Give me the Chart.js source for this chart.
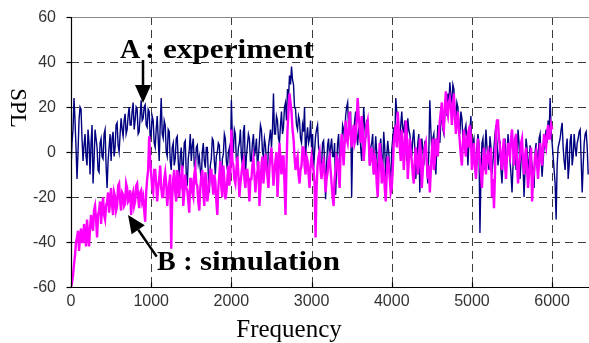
<!DOCTYPE html>
<html>
<head>
<meta http-equiv="Content-Type" content="text/html; charset=UTF-8" />
<title>SPL - experiment / simulation</title>
<script src="https://cdn.jsdelivr.net/npm/chart.js@4/dist/chart.umd.min.js"></script>
<style>
html, body { margin:0; padding:0; background:#fff; }
#wrap { width:589px; height:343px; }
</style>
</head>
<body>
<div id="wrap"><canvas id="canvas" width="589" height="343"></canvas></div>
<script>
// frequency bins are 12.5 Hz apart
var STEP = 12.5;
var xTicks = [0, 1000, 2000, 3000, 4000, 5000, 6000];
var yTicks = [-60, -40, -20, 0, 20, 40, 60];

// A : experiment (0 .. 6450 Hz)
var splA = [
  -8, 4, 10, 24, 14, 2, -12, 0, 14, 20, 19, 6, -4, 3, 8, -2, -6, 10, 4, -10,
  4, 12, -14, -4, 10, 6, 2, -8, -9, 4, 6, -2, -3, 8, 10, -6, -16, -4, 2, 8,
  -4, 6, 9, -2, 2, 12, 13, 3, 0, 8, 15, 10, 7, 14, 17, 8, 10, 16, 20, 12,
  12, 18, 22, 10, 14, 20, 19, 8, 9, 16, 23, 14, 15, 20, 21, 12, 11, 19, 18, 6,
  8, 16, 14, 4, 2, 10, 16, 6, -4, 12, 24, 8, 6, 14, 12, 0, -2, 10, 9, -4,
  -8, 2, 4, -6, -3, 6, 7, -4, -12, -2, 2, -8, -6, 4, 5, -10, -15, -3, 1, 8,
  -4, 3, 6, -6, -9, 2, 3, -5, -2, -8, -13, 0, 4, -4, -7, 2, 2, -10, -18, -6,
  -3, 6, 5, -4, -10, -2, 0, 4, 3, -8, -14, -3, -1, 8, 6, -4, -8, 0, 2, -6,
  23, 6, 0, 10, 8, -4, -5, 2, 4, 10, -2, -6, 9, 12, -11, -2, 3, 8, 6, -4,
  -4, 4, 8, -2, 1, 6, -7, -2, 5, 12, 10, 0, -2, 6, 3, -5, -9, 2, 6, 10,
  2, 10, 26, 8, 8, 16, 14, 6, 4, 12, 18, 8, 11, 20, 22, 14, 28, 24, 34, 30,
  38, 32, 30, 20, 19, 12, 10, 16, 14, 6, 4, 12, 9, 20, -3, 6, 11, 4, 6, 14,
  2, 8, -8, 0, 7, 10, 12, 2, 0, -6, -6, 4, 5, -4, -21, -6, 3, 6, -4, 2,
  6, -2, -2, 4, -19, -6, 4, 8, -5, 0, 2, 12, 10, 4, 16, 20, 22, 10, 12, 18,
  -20, 4, 8, 14, 18, 8, 3, 10, 12, 2, -4, 6, 20, 12, 6, 14, 14, 4, -6, 2,
  4, 8, -10, -2, 7, 0, -15, -4, 2, 6, -3, -8, 9, 2, -12, -2, 5, 0, -8, -14,
  1, 6, 11, 4, 24, 18, 14, 8, 6, 12, 18, 10, 9, 14, 2, -4, 15, 10, 8, 4,
  -2, 6, 10, 2, -12, -4, 4, 8, -18, -6, 6, 2, -6, 4, 3, -8, -14, 0, 23, 10,
  0, 6, 8, -4, -10, 2, 12, 8, 4, 14, 16, 10, 8, 18, 20, 16, 26, 22, 31, 24,
  22, 30, 28, 18, 14, 22, 20, 12, 8, 18, 15, 6, 2, 10, 12, 4, -6, 4, 10, 16,
  -2, 4, 6, -4, -12, 2, 8, 4, -36, -10, 4, 6, -8, 0, 10, 2, -4, -8, 7, 2,
  -10, -4, 2, 8, 12, 4, -6, -2, 5, -8, -14, -4, 3, 6, -9, -2, 8, 2, -4, -10,
  -18, -6, 4, 6, -8, -2, 10, 4, -12, -4, 2, -6, -20, -8, 6, 2, -10, -4, 3, -2,
  -6, -12, -16, 0, 4, -2, -4, 6, 8, -3, -11, -4, 2, 6, 10, 4, 14, 8, 24, 10,
  4, -2, -8, -14, -30, -6, 2, 4, 6, 10, 13, 2, -4, -8, 2, 6, -12, -6, 5, 8,
  -6, -2, 8, 2, -2, 4, 6, 9, 10, -4, -18, -6, 4, 8, 9, 2, -10
];

// B : simulation (0 .. 6000 Hz)
var splB = [
  -60, -58, -55, -50, -46, -40, -38, -35, -44, -38, -34, -40, -40, -32, -36, -42, -30, -36, -42, -34,
  -28, -32, -35, -26, -24, -30, -38, -28, -26, -22, -32, -25, -20, -28, -30, -24, -22, -18, -27, -22,
  -16, -24, -28, -18, -20, -26, -24, -15, -14, -22, -26, -18, -19, -24, -23, -14, -16, -22, -21, -17,
  -28, -20, -18, -24, -22, -15, -14, -20, -25, -18, -17, -22, -20, -26, -31, -18, -12, -8, 7, -4,
  -10, -16, -18, -8, -8, -14, -22, -16, -12, -6, -16, -20, -20, -12, -9, -14, -24, -18, -14, -10,
  -43, -20, -12, -8, -18, -22, -8, -14, -20, -12, -14, -6, -24, -18, -10, -16, -17, -22, -27, -12,
  -12, -18, -20, -10, -7, -14, -15, -22, -26, -16, -11, -8, -18, -24, -9, -12, -22, -18, -14, -8,
  -8, -14, -19, -10, -13, -22, -28, -16, -10, -4, -16, -20, -6, -12, -21, -18, -12, -6, -15, -10,
  10, -4, -6, -12, -14, -8, -2, -10, -20, -14, -10, -6, -4, -12, -16, -8, -8, -14, -22, -12,
  -12, -6, -3, -10, -18, -12, -9, -4, -24, -16, -6, -2, -14, -8, -1, -6, -11, -16, -7, -2,
  2, -6, -15, -8, -4, 0, -20, -10, 4, -4, -10, -2, -2, -14, -28, -6, 10, 18, 26, 22,
  18, 10, 6, -2, -8, -4, -2, -10, -14, -8, -6, 2, 2, -6, -10, -2, -4, -10, -16, -6,
  -2, -6, -8, -14, -38, -16, -6, -2, 0, -8, -12, -6, -4, -10, -18, -12, -9, -4, -2, -8,
  -14, -20, -24, -12, -8, -2, -3, -10, -16, 0, 8, 2, -6, 4, 14, 6, 4, 10, 18, 8,
  2, 8, 12, 4, 6, 14, 24, 16, 10, 4, 16, 10, -4, 2, 8, 12, 14, 6, -6, -2,
  2, -4, -10, -2, -4, -14, -20, -8, 4, -2, -14, -6, -8, -16, -22, -10, -2, -6, -12, -18,
  -16, -8, 4, 8, 12, 2, 18, 10, 2, -4, 10, 4, -8, 0, 14, 8, -12, -4, 6, 0,
  -4, -10, -14, -4, 2, -2, -10, -6, 6, 0, -16, -8, -2, 2, 4, -4, -12, -6, -18, -8,
  0, 6, -8, -4, 6, 2, -2, 8, 14, 18, 22, 12, 10, 20, 27, 18, 16, 22, 24, 20,
  12, 20, 26, 16, 8, 14, 18, 10, 4, -2, -6, 4, 10, 2, -2, 6, 8, 2, 12, 6,
  -8, -2, 4, -6, -12, -4, 6, 0, -4, -10, -16, -6, 2, -4, -10, -2, 0, -4, -6, 2,
  -20, -12, -25, -10, 10, 14, 14, 6, 2, -4, -8, 2, 6, -6, -12, -2, 4, 0, -2, 6,
  10, 2, -6, 4, 8, -4, -14, -6, -2, 4, 6, -4, -10, -2, 2, -8, -16, -10, -4, 2,
  -22, -12, -8, -2, 0, -6, -12, -4, 4, -2, -6, 2, 8, 4, 2, 8, 12, 6, 6, 12,
  10
];

// labels placed in data units [freq, spl]
var labelA = { letter: 'A', word: 'experiment', letterAt: [611, 41.6], colonAt: 985, wordFrom: 1147, wordTo: 3030 };
var labelB = { letter: 'B', word: 'simulation', letterAt: [1072, -52.4], colonAt: 1459, wordFrom: 1609, wordTo: 3354 };
var arrowA = [[898, 40.9], [898, 21.8]];
var arrowB = [[1069, -46.5], [711, -28]];

function toPoints(vals) {
    var pts = [];
    for (var i = 0; i < vals.length; i++) pts.push({ x: i * STEP, y: vals[i] });
    return pts;
}

var frame = {
    id: 'frame',
    beforeDatasetsDraw: function(chart) {
        var ctx = chart.ctx, a = chart.chartArea, xs = chart.scales.x, ys = chart.scales.y;
        function seg(x1, y1, x2, y2) { ctx.beginPath(); ctx.moveTo(x1, y1); ctx.lineTo(x2, y2); ctx.stroke(); }
        ctx.save();
        ctx.lineWidth = 1;
        ctx.strokeStyle = '#3c3c3c';
        ctx.setLineDash([8, 5]);
        xTicks.forEach(function(v) {
            if (v == 0) return;
            var px = Math.round(xs.getPixelForValue(v)) + 0.5;
            seg(px, a.top, px, a.bottom);
        });
        yTicks.forEach(function(v) {
            if (v == -60 || v == 60) return;
            var py = Math.round(ys.getPixelForValue(v)) + 0.5;
            seg(a.left, py, a.right, py);
        });
        ctx.setLineDash([]);
        ctx.strokeStyle = '#8a8a8a';
        seg(a.left, a.top + 0.5, a.right, a.top + 0.5);

        // tick labels
        ctx.fillStyle = '#333';
        ctx.font = '16px "Liberation Sans", Arial, sans-serif';
        ctx.textAlign = 'center';
        ctx.textBaseline = 'top';
        xTicks.forEach(function(v) {
            ctx.fillText(String(v), xs.getPixelForValue(v), a.bottom + 7);
        });
        ctx.textAlign = 'right';
        ctx.textBaseline = 'middle';
        yTicks.forEach(function(v) {
            ctx.fillText(String(v), a.left - 15, ys.getPixelForValue(v) + 1);
        });
        ctx.restore();
    },
    afterDatasetsDraw: function(chart) {
        var ctx = chart.ctx, a = chart.chartArea, xs = chart.scales.x, ys = chart.scales.y;
        function seg(x1, y1, x2, y2) { ctx.beginPath(); ctx.moveTo(x1, y1); ctx.lineTo(x2, y2); ctx.stroke(); }
        ctx.save();
        ctx.strokeStyle = '#000';
        ctx.lineWidth = 1.2;
        var L = Math.round(a.left) + 0.5, B = Math.round(a.bottom) + 0.5;
        seg(L, a.top, L, B);
        seg(a.left, B, a.right, B);
        yTicks.forEach(function(v) {
            var py = Math.round(ys.getPixelForValue(v)) + 0.5;
            seg(L - 5, py, L, py);
        });
        xTicks.forEach(function(v) {
            var px = Math.round(xs.getPixelForValue(v)) + 0.5;
            seg(px, B, px, B - 5);
        });

        // annotations
        ctx.fillStyle = '#000';
        ctx.font = 'bold 28px "Liberation Serif", "DejaVu Serif", serif';
        ctx.textBaseline = 'alphabetic';
        [labelA, labelB].forEach(function(lb) {
            var bx = xs.getPixelForValue(lb.letterAt[0]);
            var by = ys.getPixelForValue(lb.letterAt[1]);
            ctx.textAlign = 'left';
            ctx.fillText(lb.letter, bx, by);
            ctx.textAlign = 'center';
            ctx.fillText(':', xs.getPixelForValue(lb.colonAt), by);
            var x1 = xs.getPixelForValue(lb.wordFrom), x2 = xs.getPixelForValue(lb.wordTo);
            var w = ctx.measureText(lb.word).width;
            ctx.save();
            ctx.translate(x1, by);
            ctx.scale((x2 - x1) / w, 1);
            ctx.textAlign = 'left';
            ctx.fillText(lb.word, 0, 0);
            ctx.restore();
        });

        [arrowA, arrowB].forEach(function(ar) {
            var x1 = xs.getPixelForValue(ar[0][0]), y1 = ys.getPixelForValue(ar[0][1]);
            var x2 = xs.getPixelForValue(ar[1][0]), y2 = ys.getPixelForValue(ar[1][1]);
            var ang = Math.atan2(y2 - y1, x2 - x1), hl = 18, hw = 8;
            var bx = x2 - hl * Math.cos(ang), by = y2 - hl * Math.sin(ang);
            ctx.lineWidth = 2.5;
            seg(x1, y1, bx, by);
            ctx.beginPath();
            ctx.moveTo(x2, y2);
            ctx.lineTo(bx + hw * Math.sin(ang), by - hw * Math.cos(ang));
            ctx.lineTo(bx - hw * Math.sin(ang), by + hw * Math.cos(ang));
            ctx.closePath();
            ctx.fill();
        });

        // axis titles
        ctx.font = '25px "Liberation Serif", "DejaVu Serif", serif';
        ctx.textAlign = 'center';
        ctx.fillText('Frequency', 289, 337);
        ctx.translate(17, 108);
        ctx.rotate(Math.PI / 2);
        ctx.font = '23px "Liberation Serif", "DejaVu Serif", serif';
        ctx.textBaseline = 'middle';
        ctx.fillText('SPL', 0, 0);
        ctx.restore();
    }
};

new Chart(document.getElementById('canvas').getContext('2d'), {
    type: 'line',
    data: {
        datasets: [
            { label: 'B : simulation', data: toPoints(splB), borderColor: '#ff00ff', borderWidth: 2.4, pointRadius: 0, tension: 0, fill: false },
            { label: 'A : experiment', data: toPoints(splA), borderColor: '#000080', borderWidth: 1.4, pointRadius: 0, tension: 0, fill: false }
        ]
    },
    options: {
        responsive: false,
        animation: false,
        events: [],
        layout: { padding: { top: 17, right: 0, left: 0, bottom: 0 } },
        plugins: { legend: { display: false }, tooltip: { enabled: false } },
        scales: {
            x: {
                type: 'linear', min: 0, max: 6460,
                afterFit: function(s) { s.height = 56; },
                grid: { display: false, drawTicks: false },
                border: { display: false },
                ticks: { display: false }
            },
            y: {
                min: -60, max: 60,
                afterFit: function(s) { s.width = 71; },
                grid: { display: false, drawTicks: false },
                border: { display: false },
                ticks: { display: false }
            }
        }
    },
    plugins: [frame]
});
</script>
</body>
</html>
